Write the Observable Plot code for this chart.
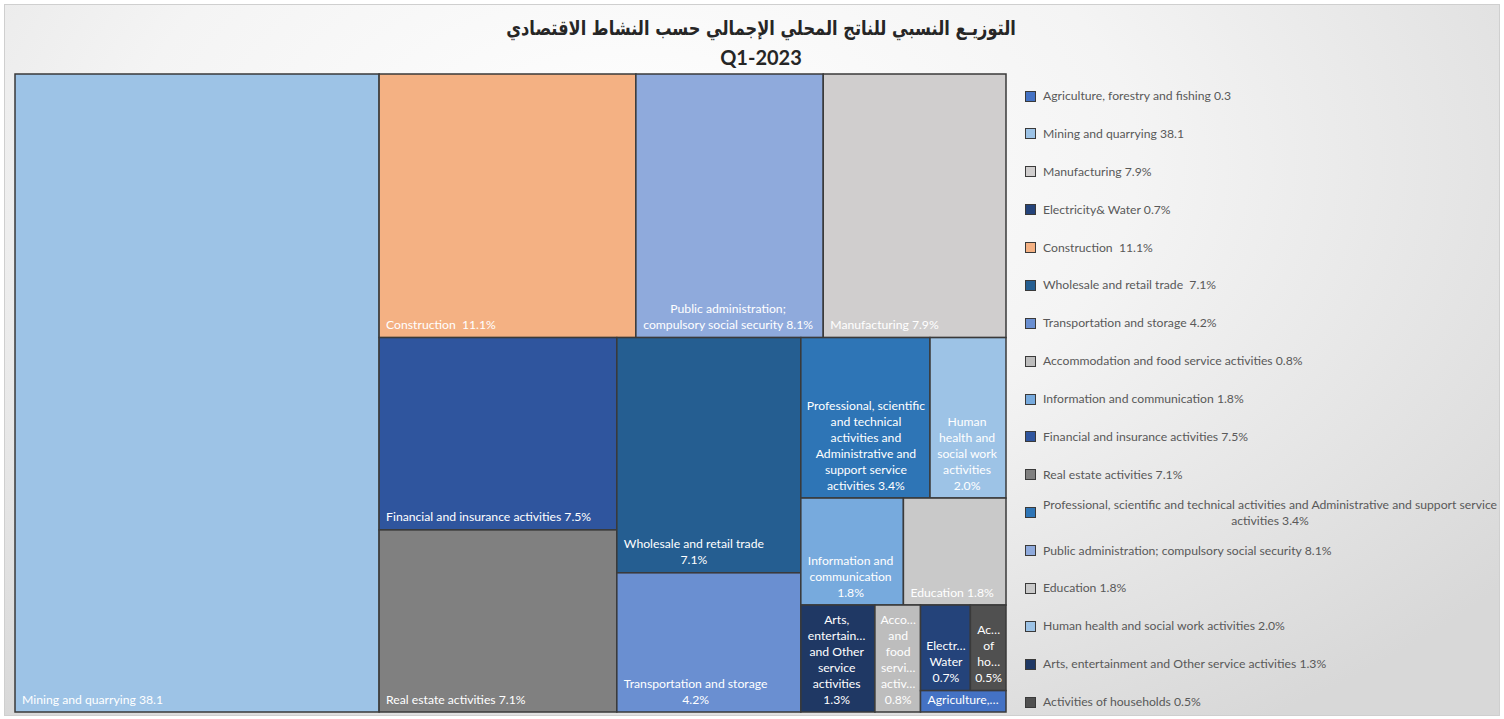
<!DOCTYPE html>
<html><head><meta charset="utf-8">
<script src="https://cdn.jsdelivr.net/npm/d3@7"></script>
<script src="https://cdn.jsdelivr.net/npm/@observablehq/plot@0.6"></script>
<style>
html,body{margin:0;padding:0;background:#fff;width:1504px;height:719px;overflow:hidden;}
#frame{position:absolute;left:4px;top:4px;width:1496px;height:712px;border:1px solid #cfcfcf;box-sizing:border-box;
 background: radial-gradient(ellipse 75% 95% at 42% 22%, #ffffff 0%, #f4f4f4 45%, #d8d8d8 100%);}
#title{position:absolute;left:0;top:14px;width:1522px;text-align:center;font-family:"DejaVu Sans",sans-serif;font-weight:bold;font-size:20px;color:#262626;direction:rtl;line-height:28px;transform:scaleX(0.81);transform-origin:761px 0;}
#sub{position:absolute;left:0;top:43px;width:1522px;text-align:center;font-family:Lato,sans-serif;font-weight:bold;font-size:20px;color:#262626;line-height:28px;}
#chart{position:absolute;left:0;top:70px;}
.lg-sw{position:absolute;width:11px;height:11px;border:1.5px solid #3a3a3a;box-sizing:border-box;}
.lg-tx{position:absolute;display:inline-block;white-space:pre;text-align:center;font-family:Lato,sans-serif;font-size:12.2px;line-height:16px;color:#595959;}
</style>
</head><body>
<div id="frame"></div>
<div id="title">التوزيـع النسبي للناتج المحلي الإجمالي حسب النشاط الاقتصادي</div>
<div id="sub">Q1-2023</div>
<div id="chart"></div>
<div id="legend"></div>
<script>
// ---- data ----
const sectors = [
  "Agriculture, forestry and fishing",
  "Mining and quarrying",
  "Manufacturing",
  "Electricity& Water",
  "Construction",
  "Wholesale and retail trade",
  "Transportation and storage",
  "Accommodation and food service activities",
  "Information and communication",
  "Financial and insurance activities",
  "Real estate activities",
  "Professional, scientific and technical activities and Administrative and support service activities",
  "Public administration; compulsory social security",
  "Education",
  "Human health and social work activities",
  "Arts, entertainment and Other service activities",
  "Activities of households"
];
const shares = [0.3, 38.1, 7.9, 0.7, 11.1, 7.1, 4.2, 0.8, 1.8, 7.5, 7.1, 3.4, 8.1, 1.8, 2.0, 1.3, 0.5];
const legendLabels = [
  "Agriculture, forestry and fishing 0.3",
  "Mining and quarrying 38.1",
  "Manufacturing 7.9%",
  "Electricity& Water 0.7%",
  "Construction  11.1%",
  "Wholesale and retail trade  7.1%",
  "Transportation and storage 4.2%",
  "Accommodation and food service activities 0.8%",
  "Information and communication 1.8%",
  "Financial and insurance activities 7.5%",
  "Real estate activities 7.1%",
  "Professional, scientific and technical activities and Administrative and support service\nactivities 3.4%",
  "Public administration; compulsory social security 8.1%",
  "Education 1.8%",
  "Human health and social work activities 2.0%",
  "Arts, entertainment and Other service activities 1.3%",
  "Activities of households 0.5%"
];
const tileLabels = [
  "Agriculture,…",
  "Mining and quarrying 38.1",
  "Manufacturing 7.9%",
  "Electr…\nWater\n0.7%",
  "Construction  11.1%",
  "Wholesale and retail trade\n7.1%",
  "Transportation and storage\n4.2%",
  "Acco…\nand\nfood\nservi…\nactiv…\n0.8%",
  "Information and\ncommunication\n1.8%",
  "Financial and insurance activities 7.5%",
  "Real estate activities 7.1%",
  "Professional, scientific\nand technical\nactivities and\nAdministrative and\nsupport service\nactivities 3.4%",
  "Public administration;\ncompulsory social security 8.1%",
  "Education 1.8%",
  "Human\nhealth and\nsocial work\nactivities\n2.0%",
  "Arts,\nentertain…\nand Other\nservice\nactivities\n1.3%",
  "Ac…\nof\nho…\n0.5%"
];
const colors = ["#4472C4","#9DC3E6","#D0CECE","#24437A","#F4B183","#255E91","#6A8FD1","#BDBDBD","#77AADD",
                "#2F559E","#808080","#2E75B6","#8FAADC","#C9C9C9","#9DC3E6","#1F3864","#505050"];
// squarified strips (row groups) in the order the reference lays them out
const strips = [
  ["Mining and quarrying"],
  ["Construction","Public administration; compulsory social security","Manufacturing"],
  ["Financial and insurance activities","Real estate activities"],
  ["Wholesale and retail trade","Transportation and storage"],
  ["Professional, scientific and technical activities and Administrative and support service activities","Human health and social work activities"],
  ["Information and communication","Education"],
  ["Arts, entertainment and Other service activities"],
  ["Accommodation and food service activities"],
  ["Electricity& Water","Activities of households"],
  ["Agriculture, forestry and fishing"]
];

// ---- layout ----
const W = 991, H = 638;
const idx = new Map(sectors.map((s, i) => [s, i]));
function nest(k) {
  const strip = {strip: true, children: strips[k].map(name => ({name, value: shares[idx.get(name)]}))};
  return k === strips.length - 1 ? strip : {children: [strip, nest(k + 1)]};
}
function tile(node, x0, y0, x1, y1) {
  let sideBySide;
  if (node.data.strip) {
    const p = node.parent;
    sideBySide = p ? (p.x1 - p.x0) < (p.y1 - p.y0) : true;
  } else sideBySide = (x1 - x0) >= (y1 - y0);
  (sideBySide ? d3.treemapDice : d3.treemapSlice)(node, x0, y0, x1, y1);
}
const root = d3.hierarchy(nest(0)).sum(d => d.value || 0);
d3.treemap().tile(tile).size([W, H]).round(false)(root);

const FONT = 12.2, PAD = 6.5;
const ctx = document.createElement("canvas").getContext("2d");
ctx.font = `${FONT}px Lato`;
const tiles = root.leaves().map(l => {
  const i = idx.get(l.data.name);
  const label = tileLabels[i];
  const lw = Math.max(...label.split("\n").map(s => ctx.measureText(s).width));
  const bw = Math.min(lw, l.x1 - l.x0 - 2 * PAD);
  return {name: l.data.name, x0: l.x0, x1: l.x1, y0: l.y0, y1: l.y1, label, lx: l.x0 + PAD + bw / 2};
});

const plot = Plot.plot({
  width: 1010, height: 646,
  marginLeft: 15, marginRight: 4, marginTop: 4, marginBottom: 4,
  x: {domain: [0, W], axis: null},
  y: {domain: [0, H], reverse: true, axis: null},
  color: {domain: sectors, range: colors},
  style: {background: "transparent", overflow: "visible"},
  marks: [
    Plot.rect(tiles, {x1: "x0", x2: "x1", y1: "y0", y2: "y1", fill: "name", stroke: "#3a3a3a", strokeWidth: 1.5}),
    Plot.text(tiles, {x: "lx", y: "y1", text: "label", fill: "white", textAnchor: "middle", lineAnchor: "bottom",
      dy: -9, lineHeight: 16 / FONT, fontSize: FONT, fontFamily: "Lato"})
  ]
});
document.getElementById("chart").appendChild(plot);

// ---- legend ----
const color = plot.scale("color");
const leg = document.getElementById("legend");
sectors.forEach((s, i) => {
  const cy = 96 + i * 37.875;
  const lines = legendLabels[i].split("\n").length;
  const sw = document.createElement("div");
  sw.className = "lg-sw";
  sw.style.left = "1025px"; sw.style.top = (cy - 5.5) + "px";
  sw.style.background = color.apply(s);
  const tx = document.createElement("div");
  tx.className = "lg-tx";
  tx.textContent = legendLabels[i];
  tx.style.left = "1043px"; tx.style.top = (cy - 8 * lines) + "px";
  leg.appendChild(sw); leg.appendChild(tx);
});
</script>
</body></html>
